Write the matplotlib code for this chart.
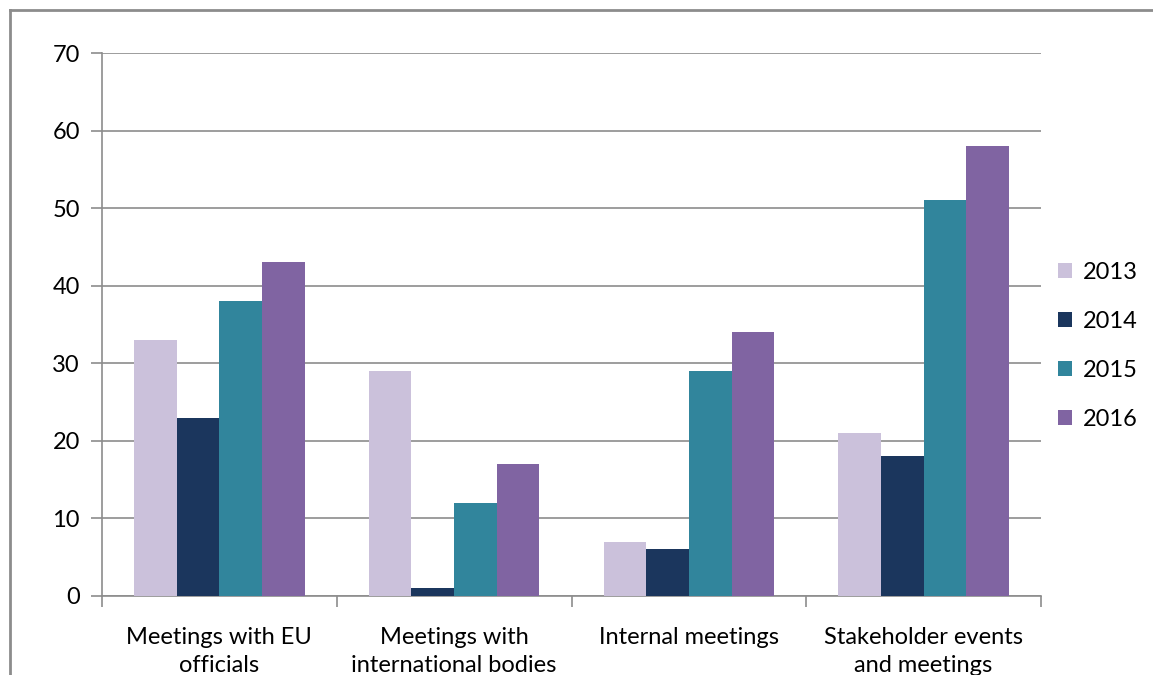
import matplotlib
matplotlib.use('Agg')
import matplotlib.pyplot as plt
import numpy as np
from matplotlib.lines import Line2D
from matplotlib.patches import Patch

categories = ['Meetings with EU\nofficials', 'Meetings with\ninternational bodies',
              'Internal meetings', 'Stakeholder events\nand meetings']
years = ['2013', '2014', '2015', '2016']
v2013 = [33, 29, 7, 21]
v2014 = [23, 1, 6, 18]
v2015 = [38, 12, 29, 51]
v2016 = [43, 17, 34, 58]
colors = ['#CBC1DB', '#1B365D', '#31859C', '#8064A2']

plt.rcParams['font.family'] = ['Lato', 'DejaVu Sans']

W, H = 1153, 675
fig = plt.figure(figsize=(W / 100, H / 100), dpi=100)
ax = fig.add_axes([102 / W, 1 - 596 / H, (1041 - 102) / W, (596 - 53) / H])

series = [v2013, v2014, v2015, v2016]
x = np.arange(len(categories))
bw = 1 / 5.5
for i, (vals, c, yr) in enumerate(zip(series, colors, years)):
    ax.bar(x + (i - 1.5) * bw, vals, width=bw, color=c, label=yr, zorder=3)

ax.set_xlim(-0.5, len(categories) - 0.5)
ax.set_ylim(0, 70)
ax.set_yticks(range(0, 71, 10))
ax.yaxis.grid(True, color='#8c8c8c', linewidth=1.2, zorder=0)
ax.tick_params(axis='y', length=8, width=1.2, color='#8c8c8c', labelsize=17, pad=8)
ax.set_xticks(x)
ax.set_xticklabels(categories, fontsize=17, linespacing=1.45)
ax.tick_params(axis='x', length=0, pad=22)
ax.set_xticks(np.arange(-0.5, len(categories)), minor=True)
ax.tick_params(axis='x', which='minor', length=8, width=1.2, color='#8c8c8c')

for s in ['top', 'right']:
    ax.spines[s].set_visible(False)
for s in ['left', 'bottom']:
    ax.spines[s].set_color('#8c8c8c')
    ax.spines[s].set_linewidth(1.2)

handles = [Patch(facecolor=c, label=yr) for c, yr in zip(colors, years)]
fig.legend(handles=handles, loc='center left', bbox_to_anchor=(1037 / W, 1 - 346 / H),
           frameon=False, fontsize=17, handlelength=0.6, handleheight=0.6,
           handletextpad=0.45, labelspacing=1.18)

# outer frame
fig.add_artist(Line2D([10 / W, 10 / W], [0, 1 - 10 / H], transform=fig.transFigure,
                      color='#8c8c8c', linewidth=2))
fig.add_artist(Line2D([10 / W, 1], [1 - 10 / H, 1 - 10 / H], transform=fig.transFigure,
                      color='#8c8c8c', linewidth=2))

fig.savefig('out.png', dpi=100)
